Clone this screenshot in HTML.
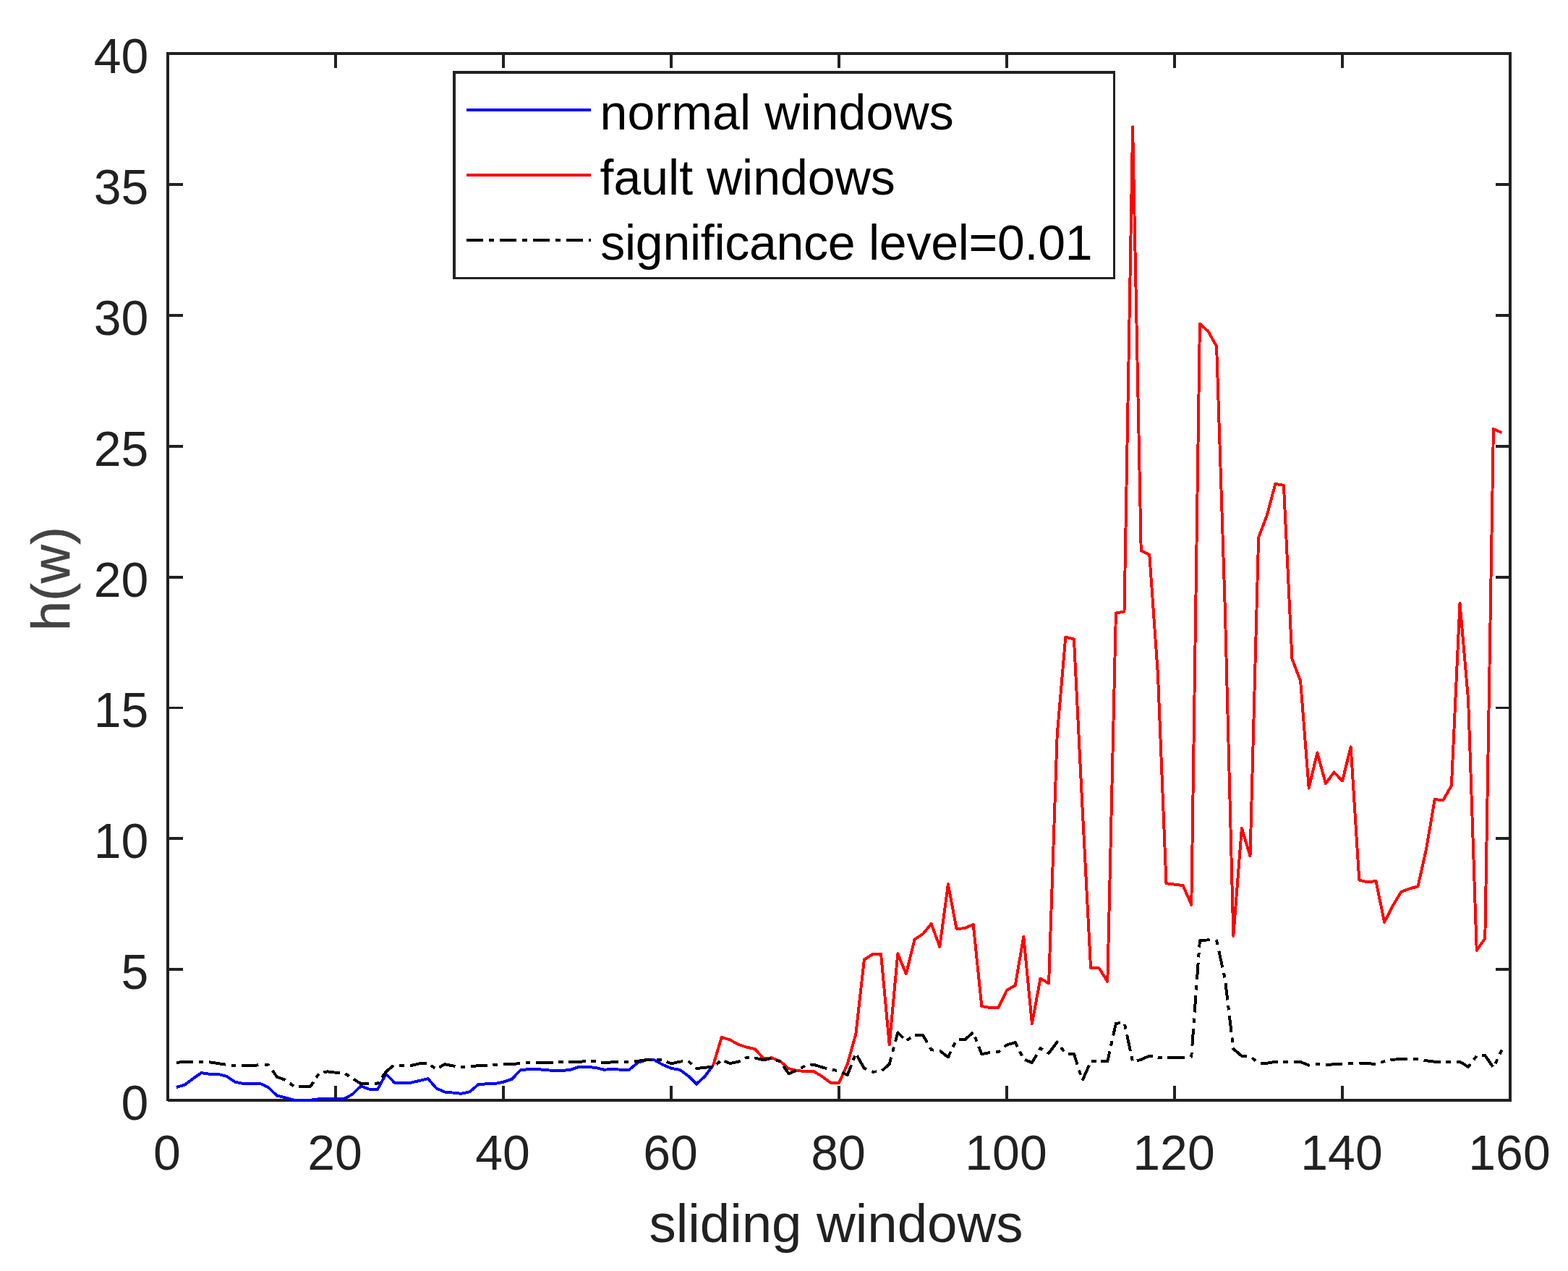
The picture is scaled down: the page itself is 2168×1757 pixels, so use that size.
<!DOCTYPE html>
<html lang="en"><head><meta charset="utf-8"><title>h(w) over sliding windows</title>
<style>html,body{margin:0;padding:0;background:#fff;overflow:hidden}svg{display:block}text{font-family:"Liberation Sans","DejaVu Sans",sans-serif}</style>
</head><body>
<svg width="2168" height="1757" viewBox="0 0 2168 1757">
<rect x="0" y="0" width="2168" height="1757" fill="#ffffff"/>
<g fill="#212121" shape-rendering="crispEdges">
<path d="M230 72h4v1450h-4zM2086 72h4v1451h-4zM232 72h1858v4h-1858zM232 1519h1858v4h-1858zM462 1501h4v20h-4zM462 74h4v20h-4zM694 1501h4v20h-4zM694 74h4v20h-4zM926 1501h4v20h-4zM926 74h4v20h-4zM1158 1501h4v20h-4zM1158 74h4v20h-4zM1390 1501h4v20h-4zM1390 74h4v20h-4zM1622 1501h4v20h-4zM1622 74h4v20h-4zM1854 1501h4v20h-4zM1854 74h4v20h-4zM232 1338h21v4h-21zM2068 1338h20v4h-20zM232 1157h21v4h-21zM2068 1157h20v4h-20zM232 977h21v3h-21zM2068 977h20v3h-20zM232 796h21v4h-21zM2068 796h20v4h-20zM232 615h21v4h-21zM2068 615h20v4h-20zM232 434h21v4h-21zM2068 434h20v4h-20zM232 253h21v4h-21zM2068 253h20v4h-20z"/>
</g>
<g fill="none" stroke-width="3.95" stroke-linejoin="round" stroke-linecap="butt" shape-rendering="crispEdges" transform="translate(0.1,0)">
<polyline stroke="#0000ff" points="243.6,1503.0 255.2,1499.7 266.8,1491.0 278.4,1483.1 290.0,1484.9 301.6,1484.9 313.2,1487.8 324.8,1495.7 336.4,1497.9 348.0,1497.9 359.6,1497.9 371.2,1503.3 382.8,1514.6 394.4,1517.4 406.0,1520.7 417.6,1520.7 429.2,1520.7 440.8,1519.3 452.4,1519.3 464.0,1519.1 475.6,1519.1 487.2,1512.7 498.8,1501.4 510.4,1505.7 522.0,1505.7 533.6,1484.5 545.2,1496.6 556.8,1496.6 568.4,1496.6 580.0,1493.9 591.6,1491.0 603.2,1504.4 614.8,1509.5 626.4,1510.6 638.0,1511.8 649.6,1509.1 661.2,1499.2 672.8,1498.3 684.4,1497.9 696.0,1495.7 707.6,1491.8 719.2,1479.5 730.8,1478.0 742.4,1478.0 754.0,1479.1 765.6,1480.0 777.2,1480.0 788.8,1478.7 800.4,1474.9 812.0,1474.9 823.6,1475.9 835.2,1478.7 846.8,1478.0 858.4,1478.7 870.0,1478.7 881.6,1469.0 893.2,1465.4 904.8,1465.4 916.4,1471.9 928.0,1476.9 939.6,1478.7 951.2,1487.1 962.8,1498.6 974.4,1488.0 986.0,1472.6"/>
<polyline stroke="#ff0000" points="986.0,1472.6 997.6,1433.9 1009.2,1437.5 1020.8,1443.8 1032.4,1447.6 1044.0,1450.2 1055.6,1463.4 1067.2,1462.3 1078.8,1467.2 1090.4,1477.1 1102.0,1480.0 1113.6,1481.1 1125.2,1481.1 1136.8,1488.1 1148.4,1496.8 1160.0,1496.8 1171.6,1470.8 1183.2,1429.6 1194.8,1326.5 1206.4,1319.2 1218.0,1318.9 1229.6,1444.0 1241.2,1318.2 1252.8,1346.4 1264.4,1298.6 1276.0,1291.0 1287.6,1276.9 1299.2,1308.8 1310.8,1222.3 1322.4,1283.8 1334.0,1283.3 1345.6,1277.7 1357.2,1391.0 1368.8,1393.0 1380.4,1393.0 1392.0,1368.8 1403.6,1362.3 1415.2,1294.7 1426.8,1415.1 1438.4,1352.5 1450.0,1359.4 1461.6,1015.4 1473.2,880.5 1484.8,883.4 1496.4,1115.6 1508.0,1338.4 1519.6,1338.4 1531.2,1356.9 1542.8,847.6 1554.4,845.5 1566.0,175.3 1577.6,761.2 1589.2,767.0 1600.8,931.5 1612.4,1221.1 1624.0,1222.7 1635.6,1224.1 1647.2,1250.9 1658.8,447.6 1670.4,458.1 1682.0,478.7 1693.6,838.2 1705.2,1293.9 1716.8,1144.6 1728.4,1183.3 1740.0,743.1 1751.6,712.7 1763.2,669.0 1774.8,670.8 1786.4,910.9 1798.0,941.3 1809.6,1089.6 1821.2,1040.4 1832.8,1083.1 1844.4,1067.5 1856.0,1079.5 1867.6,1032.4 1879.2,1216.5 1890.8,1219.4 1902.4,1218.0 1914.0,1274.8 1925.6,1252.3 1937.2,1232.8 1948.8,1228.5 1960.4,1225.4 1972.0,1173.5 1983.6,1105.1 1995.2,1106.2 2006.8,1086.0 2018.4,833.9 2030.0,967.3 2041.6,1313.8 2053.2,1297.2 2064.8,593.0 2076.4,598.1"/>
<polyline stroke="#000000" stroke-dasharray="23.40 7.74 6.60 7.74" points="243.6,1469.0 255.2,1467.7 266.8,1467.7 278.4,1467.7 289.0,1468.2"/>
<polyline stroke="#000000" stroke-dasharray="23.40 7.67 6.60 7.67" points="289.0,1468.2 290.0,1468.3 301.6,1470.1 313.2,1471.9 324.8,1473.0 334.0,1473.0"/>
<polyline stroke="#000000" stroke-dasharray="23.40 8.30 6.60 8.30" points="334.0,1473.0 336.4,1473.0 348.0,1473.0 359.6,1472.2 371.2,1472.2 376.6,1479.9"/>
<polyline stroke="#000000" stroke-dasharray="23.40 7.44 6.60 7.44" points="376.6,1479.9 382.8,1488.7 394.4,1492.9 406.0,1501.5 413.3,1501.8"/>
<polyline stroke="#000000" stroke-dasharray="23.40 6.84 6.60 6.84" points="413.3,1501.8 417.6,1501.9 429.2,1501.9 440.8,1484.2 447.2,1482.6"/>
<polyline stroke="#000000" stroke-dasharray="23.40 7.23 6.60 7.23" points="447.2,1482.6 452.4,1481.3 464.0,1482.7 475.6,1483.1 487.2,1490.5 488.9,1491.6"/>
<polyline stroke="#000000" stroke-dasharray="23.40 7.62 6.60 7.62" points="488.9,1491.6 498.8,1498.1 510.4,1498.1 522.0,1497.6 528.0,1489.3"/>
<polyline stroke="#000000" stroke-dasharray="23.40 8.01 6.60 8.01" points="528.0,1489.3 533.6,1481.6 545.2,1471.9 556.8,1473.0 566.5,1473.0"/>
<polyline stroke="#000000" stroke-dasharray="23.40 7.23 6.60 7.23" points="566.5,1473.0 568.4,1473.0 580.0,1470.2 591.6,1469.9 603.2,1478.0 607.4,1475.5"/>
<polyline stroke="#000000" stroke-dasharray="23.40 7.36 6.60 7.36" points="607.4,1475.5 614.8,1471.2 626.4,1473.5 638.0,1474.8 649.6,1474.8 650.6,1474.6"/>
<polyline stroke="#000000" stroke-dasharray="23.40 7.49 6.60 7.49" points="650.6,1474.6 661.2,1473.0 672.8,1472.6 684.4,1471.9 695.4,1471.2"/>
<polyline stroke="#000000" stroke-dasharray="23.40 7.89 6.60 7.89" points="695.4,1471.2 696.0,1471.2 707.6,1471.0 719.2,1470.1 730.8,1469.0 741.1,1469.0"/>
<polyline stroke="#000000" stroke-dasharray="23.40 7.63 6.60 7.63" points="741.1,1469.0 742.4,1469.0 754.0,1469.0 765.6,1469.0 777.2,1467.9 786.3,1467.9"/>
<polyline stroke="#000000" stroke-dasharray="23.40 7.51 6.60 7.51" points="786.3,1467.9 788.8,1467.9 800.4,1467.7 812.0,1467.2 823.6,1467.2 831.2,1468.5"/>
<polyline stroke="#000000" stroke-dasharray="23.40 8.11 6.60 8.11" points="831.2,1468.5 835.2,1469.2 846.8,1468.3 858.4,1467.7 870.0,1467.7 877.3,1467.1"/>
<polyline stroke="#000000" stroke-dasharray="23.40 7.53 6.60 7.53" points="877.3,1467.1 881.6,1466.8 893.2,1465.2 904.8,1464.8 916.4,1465.2 921.7,1467.6"/>
<polyline stroke="#000000" stroke-dasharray="23.40 7.38 6.60 7.38" points="921.7,1467.6 928.0,1470.4 939.6,1467.7 951.2,1466.4 961.7,1476.1"/>
<polyline stroke="#000000" stroke-dasharray="23.40 6.93 6.60 6.93" points="961.7,1476.1 962.8,1477.1 974.4,1475.7 986.0,1474.8 997.6,1465.4 1001.4,1466.9"/>
<polyline stroke="#000000" stroke-dasharray="23.40 7.16 6.60 7.16" points="1001.4,1466.9 1009.2,1470.1 1020.8,1467.7 1032.4,1461.7 1043.4,1462.4"/>
<polyline stroke="#000000" stroke-dasharray="23.40 7.24 6.60 7.24" points="1043.4,1462.4 1044.0,1462.5 1055.6,1465.4 1067.2,1462.8 1078.8,1467.7 1083.1,1473.8"/>
<polyline stroke="#000000" stroke-dasharray="23.40 7.66 6.60 7.66" points="1083.1,1473.8 1090.4,1484.2 1102.0,1479.5 1113.6,1473.0 1120.4,1472.3"/>
<polyline stroke="#000000" stroke-dasharray="23.40 7.73 6.60 7.73" points="1120.4,1472.3 1125.2,1471.9 1136.8,1475.3 1148.4,1478.7 1160.0,1480.2 1164.2,1482.4"/>
<polyline stroke="#000000" stroke-dasharray="23.40 7.01 6.60 7.01" points="1164.2,1482.4 1171.6,1486.3 1183.2,1456.3 1184.9,1459.3"/>
<polyline stroke="#000000" stroke-dasharray="23.40 8.08 6.60 8.08" points="1184.9,1459.3 1194.8,1476.9 1206.4,1481.6 1218.0,1481.3 1219.4,1480.1"/>
<polyline stroke="#000000" stroke-dasharray="23.40 8.04 6.60 8.04" points="1219.4,1480.1 1229.6,1471.2 1237.9,1439.7"/>
<polyline stroke="#000000" stroke-dasharray="23.40 6.37 6.60 6.37" points="1237.9,1439.7 1241.2,1427.4 1252.8,1438.6 1264.4,1431.0"/>
<polyline stroke="#000000" stroke-dasharray="23.40 8.05 6.60 8.05" points="1264.4,1431.0 1276.0,1431.0 1287.6,1451.3 1298.7,1452.5"/>
<polyline stroke="#000000" stroke-dasharray="23.40 7.42 6.60 7.42" points="1298.7,1452.5 1299.2,1452.5 1310.8,1461.4 1322.4,1437.5 1325.6,1437.4"/>
<polyline stroke="#000000" stroke-dasharray="23.40 7.44 6.60 7.44" points="1325.6,1437.4 1334.0,1437.2 1345.6,1427.0 1353.2,1446.7"/>
<polyline stroke="#000000" stroke-dasharray="23.40 7.76 6.60 7.76" points="1353.2,1446.7 1357.2,1457.2 1368.8,1454.9 1380.4,1454.3 1388.6,1447.3"/>
<polyline stroke="#000000" stroke-dasharray="23.40 7.13 6.60 7.13" points="1388.6,1447.3 1392.0,1444.4 1403.6,1441.1 1415.2,1464.3 1416.9,1465.0"/>
<polyline stroke="#000000" stroke-dasharray="23.40 7.38 6.60 7.38" points="1416.9,1465.0 1426.8,1469.0 1438.4,1449.1 1447.9,1454.7"/>
<polyline stroke="#000000" stroke-dasharray="23.40 7.81 6.60 7.81" points="1447.9,1454.7 1450.0,1456.0 1461.6,1440.4 1473.2,1456.7 1477.0,1456.7"/>
<polyline stroke="#000000" stroke-dasharray="23.40 8.32 6.60 8.32" points="1477.0,1456.7 1484.8,1456.7 1496.4,1493.8"/>
<polyline stroke="#000000" stroke-dasharray="23.40 6.34 6.60 6.34" points="1496.4,1493.8 1508.0,1467.5 1519.6,1467.2 1522.0,1467.2"/>
<polyline stroke="#000000" stroke-dasharray="23.40 7.87 6.60 7.87" points="1522.0,1467.2 1531.2,1467.2 1539.1,1431.5"/>
<polyline stroke="#000000" stroke-dasharray="23.40 7.95 6.60 7.95" points="1539.1,1431.5 1542.8,1414.9 1554.4,1413.5 1558.0,1430.3"/>
<polyline stroke="#000000" stroke-dasharray="23.40 6.92 6.60 6.92" points="1558.0,1430.3 1566.0,1467.5 1571.6,1466.2"/>
<polyline stroke="#000000" stroke-dasharray="23.40 7.06 6.60 7.06" points="1571.6,1466.2 1577.6,1464.8 1589.2,1459.6 1600.8,1461.9 1612.4,1461.9 1614.2,1461.9"/>
<polyline stroke="#000000" stroke-dasharray="23.40 9.08 6.60 9.08" points="1614.2,1461.9 1624.0,1461.9 1635.6,1461.7 1647.2,1460.7 1648.3,1445.6"/>
<polyline stroke="#000000" stroke-dasharray="23.40 8.11 6.60 8.11" points="1648.3,1445.6 1651.6,1399.5"/>
<polyline stroke="#000000" stroke-dasharray="23.40 7.71 6.60 7.71" points="1651.6,1399.5 1654.9,1354.2"/>
<polyline stroke="#000000" stroke-dasharray="23.40 7.41 6.60 7.41" points="1654.9,1354.2 1658.1,1309.5"/>
<polyline stroke="#000000" stroke-dasharray="23.40 8.78 6.60 8.78" points="1658.1,1309.5 1658.8,1300.1 1670.4,1299.4 1682.0,1300.1 1685.2,1314.6"/>
<polyline stroke="#000000" stroke-dasharray="23.40 7.78 6.60 7.78" points="1685.2,1314.6 1693.6,1352.9 1694.4,1359.2"/>
<polyline stroke="#000000" stroke-dasharray="23.40 7.46 6.60 7.46" points="1694.4,1359.2 1699.7,1403.8"/>
<polyline stroke="#000000" stroke-dasharray="23.40 7.51 6.60 7.51" points="1699.7,1403.8 1705.0,1448.5"/>
<polyline stroke="#000000" stroke-dasharray="23.40 8.48 6.60 8.48" points="1705.0,1448.5 1705.2,1450.0 1716.8,1459.8 1728.4,1459.9 1740.0,1470.1 1743.3,1470.0"/>
<polyline stroke="#000000" stroke-dasharray="23.40 7.72 6.60 7.72" points="1743.3,1470.0 1751.6,1469.7 1763.2,1467.9 1774.8,1467.9 1786.4,1467.9 1788.6,1467.9"/>
<polyline stroke="#000000" stroke-dasharray="23.40 7.53 6.60 7.53" points="1788.6,1467.9 1798.0,1467.9 1809.6,1472.6 1821.2,1471.2 1832.6,1472.2"/>
<polyline stroke="#000000" stroke-dasharray="23.40 8.05 6.60 8.05" points="1832.6,1472.2 1832.8,1472.2 1844.4,1471.2 1856.0,1471.2 1867.6,1470.2 1878.6,1469.6"/>
<polyline stroke="#000000" stroke-dasharray="23.40 7.31 6.60 7.31" points="1878.6,1469.6 1879.2,1469.5 1890.8,1470.1 1902.4,1471.0 1914.0,1467.2 1922.4,1465.5"/>
<polyline stroke="#000000" stroke-dasharray="23.40 8.18 6.60 8.18" points="1922.4,1465.5 1925.6,1464.8 1937.2,1463.9 1948.8,1463.9 1960.4,1463.9 1968.5,1465.6"/>
<polyline stroke="#000000" stroke-dasharray="23.40 7.53 6.60 7.53" points="1968.5,1465.6 1972.0,1466.3 1983.6,1467.7 1995.2,1467.7 2006.8,1467.7 2013.4,1467.7"/>
<polyline stroke="#000000" stroke-dasharray="23.40 7.55 6.60 7.55" points="2013.4,1467.7 2018.4,1467.7 2030.0,1474.8 2041.6,1459.6 2049.0,1459.1"/>
<polyline stroke="#000000" stroke-dasharray="23.40 7.60 6.60 7.60" points="2049.0,1459.1 2053.2,1458.9 2064.8,1475.9 2076.4,1451.3"/>
</g>
<g fill="#212121" font-size="68px">
<g text-anchor="middle">
<text transform="translate(231.0,1616.9) scale(1,1.015)">0</text>
<text transform="translate(463.0,1616.9) scale(1,1.015)">20</text>
<text transform="translate(695.0,1616.9) scale(1,1.015)">40</text>
<text transform="translate(927.0,1616.9) scale(1,1.015)">60</text>
<text transform="translate(1159.0,1616.9) scale(1,1.015)">80</text>
<text transform="translate(1391.0,1616.9) scale(1,1.015)">100</text>
<text transform="translate(1623.0,1616.9) scale(1,1.015)">120</text>
<text transform="translate(1855.0,1616.9) scale(1,1.015)">140</text>
<text transform="translate(2087.0,1616.9) scale(1,1.015)">160</text>
</g>
<g text-anchor="end">
<text transform="translate(205.3,1548.0) scale(1,1.015)">0</text>
<text transform="translate(205.3,1367.0) scale(1,1.015)">5</text>
<text transform="translate(205.3,1186.0) scale(1,1.015)">10</text>
<text transform="translate(205.3,1005.0) scale(1,1.015)">15</text>
<text transform="translate(205.3,825.0) scale(1,1.015)">20</text>
<text transform="translate(205.3,644.0) scale(1,1.015)">25</text>
<text transform="translate(205.3,463.0) scale(1,1.015)">30</text>
<text transform="translate(205.3,282.0) scale(1,1.015)">35</text>
<text transform="translate(205.3,101.0) scale(1,1.015)">40</text>
</g>
</g>
<text x="897.55" y="1716.9" font-size="74.5px" fill="#212121" textLength="516.93" lengthAdjust="spacing">sliding windows</text>
<text transform="translate(95.8,872.03) rotate(-90)" font-size="73.8px" fill="#434343" stroke="#434343" stroke-width="0.6" textLength="143.89" lengthAdjust="spacing">h(w)</text>
<g shape-rendering="crispEdges" fill="none" stroke-width="4.17">
<path fill="#ffffff" stroke="none" d="M626 98H1542V386H626Z"/>
<path fill="#212121" fill-rule="evenodd" stroke="none" d="M626 98H1542V386H626ZM630 102V383H1539V102Z"/>
<path stroke="#0000ff" d="M644.8 151.9H817.1"/>
<path stroke="#ff0000" d="M644.8 241.8H817.1"/>
<path stroke="#000000" stroke-dasharray="23.5 8 6.5 8" d="M644.8 332.1H817.1"/>
</g>
<g fill="#000000" font-size="68px">
<text x="829.50" y="179.0" textLength="489.19" lengthAdjust="spacing">normal windows</text>
<text x="829.50" y="268.8" textLength="408.30" lengthAdjust="spacing">fault windows</text>
<text x="830.28" y="358.9" textLength="680.27" lengthAdjust="spacing">significance level=0.01</text>
</g>
</svg>
</body></html>
